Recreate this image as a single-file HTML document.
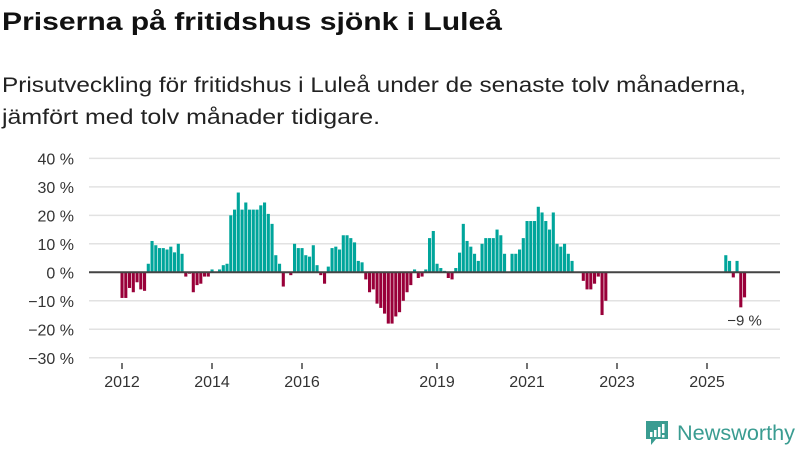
<!DOCTYPE html>
<html><head><meta charset="utf-8"><style>
body{margin:0;background:#fff;}
svg text{font-family:"Liberation Sans",sans-serif;}
</style></head><body>
<svg id="c" width="800" height="450" xmlns="http://www.w3.org/2000/svg">
<text x="2" y="30" font-size="25" font-weight="bold" fill="#111" textLength="500" lengthAdjust="spacingAndGlyphs">Priserna på fritidshus sjönk i Luleå</text>
<text x="2" y="92" font-size="21" fill="#222" textLength="744" lengthAdjust="spacingAndGlyphs">Prisutveckling för fritidshus i Luleå under de senaste tolv månaderna,</text>
<text x="2" y="124" font-size="21" fill="#222" textLength="378" lengthAdjust="spacingAndGlyphs">jämfört med tolv månader tidigare.</text>
<g id="grid"></g><g id="bars"></g><g id="axes"></g>
<g>
<path d="M646 421 h22 v18 h-12 l-5 6 v-6 h-5 z" fill="#3a9c91"/>
<rect x="650" y="432" width="2.5" height="5" fill="#fff"/><rect x="654" y="430" width="2.5" height="7" fill="#fff"/><rect x="658" y="427" width="2.5" height="10" fill="#fff"/><rect x="662" y="424" width="2.5" height="9" fill="#fff"/><rect x="662" y="435" width="2.5" height="2.5" fill="#fff"/>
<text x="677" y="440" font-size="21" fill="#3a9c91" textLength="118" lengthAdjust="spacingAndGlyphs">Newsworthy</text>
</g>
</svg>
<script>
const startYear = 2012;
const values = [-9,-9,-5.5,-7,-3.5,-6,-6.5,3,11,9.5,8.5,8.5,8,9,7,10,6.5,-1.5,-0.5,-7,-4.5,-4,-1.5,-1.5,1,null,1,2.5,3,20,22,28,22,24.5,22,22,22,23.5,24.5,20.5,17,6,3,-5,null,-1,10,8.5,
8.5,6,5.5,9.5,2.5,-1,-4,2,8.5,9,8,13,13,12,10.5,4,3.5,-2.5,-7,-6,-11,-12.5,-14.5,-18,-18,-15.5,-14,-10,-7,-4.5,1,-2,-1.5,1,12,14.5,3,1.5,0.5,-2,
-2.5,1.5,6.9,17,11,9,6.5,4,10,12,12,12,15,13,6.5,null,6.5,6.5,8,12,18,18,18,23,21,18,15,21,10,9,10,6.5,4,null,null,-3,-6,-6,-4,-1.5,-15,-10,
null,null,null,null,null,null,null,null,null,null,null,null,null,null,null,null,null,null,null,null,null,null,null,null,null,null,null,null,null,null,null,
6,4,-1.8,4,-12.3,-8.8];
const yTicks = [40,30,20,10,0,-10,-20,-30];
const yTickLabels = ["40 %","30 %","20 %","10 %","0 %","−10 %","−20 %","−30 %"];
const xTickYears = [2012,2014,2016,2019,2021,2023,2025];
const lastLabel = "−9 %";
const NS="http://www.w3.org/2000/svg";
const y0=272.3, ppu=2.849, x0=120.5, mw=3.75;
const yScale=v=>y0-v*ppu;
const xScale=i=>x0+i*mw;
function mk(t,a,p){const e=document.createElementNS(NS,t);for(const k in a)e.setAttribute(k,a[k]);p.appendChild(e);return e;}
const grid=document.getElementById('grid'),bars=document.getElementById('bars'),axes=document.getElementById('axes');
yTicks.forEach((v,k)=>{
  const l=mk('line',{x1:89,x2:780,y1:yScale(v),y2:yScale(v),stroke:'#e2e2e2','stroke-width':1.5},grid);
  
  
  const t=mk('text',{x:74,y:yScale(v)+6,'font-size':16,fill:'#333','text-anchor':'end'},axes);
  t.textContent=yTickLabels[k];
  
  
});
values.forEach((v,i)=>{
  if(v===null)return;
  const y=yScale(Math.max(v,0)),h=Math.abs(v)*ppu;
  const r=mk('rect',{x:xScale(i),y:y,width:3.1,height:h,fill:v>=0?'#00a59b':'#990039'},bars);
  
  
});
const z=mk('line',{x1:89,x2:780,y1:y0,y2:y0,stroke:'#444','stroke-width':2},axes);


xTickYears.forEach(yr=>{
  const x=xScale((yr-startYear)*12)+1.5;
  const tk=mk('line',{x1:x,x2:x,y1:363,y2:369,stroke:'#444','stroke-width':1.5},axes);
  
  
  const t=mk('text',{x:x,y:387,'font-size':16,fill:'#333','text-anchor':'middle'},axes);
  t.textContent=yr;
  
  
});
const li=values.length-1;
const lt=mk('text',{x:xScale(li)+1.5,y:yScale(values[li])+ 0 + 22 + 6,'font-size':15,fill:'#333','text-anchor':'middle'},axes);
lt.setAttribute('y', yScale(-12.3)+18);
lt.textContent=lastLabel;


</script>
</body></html>
